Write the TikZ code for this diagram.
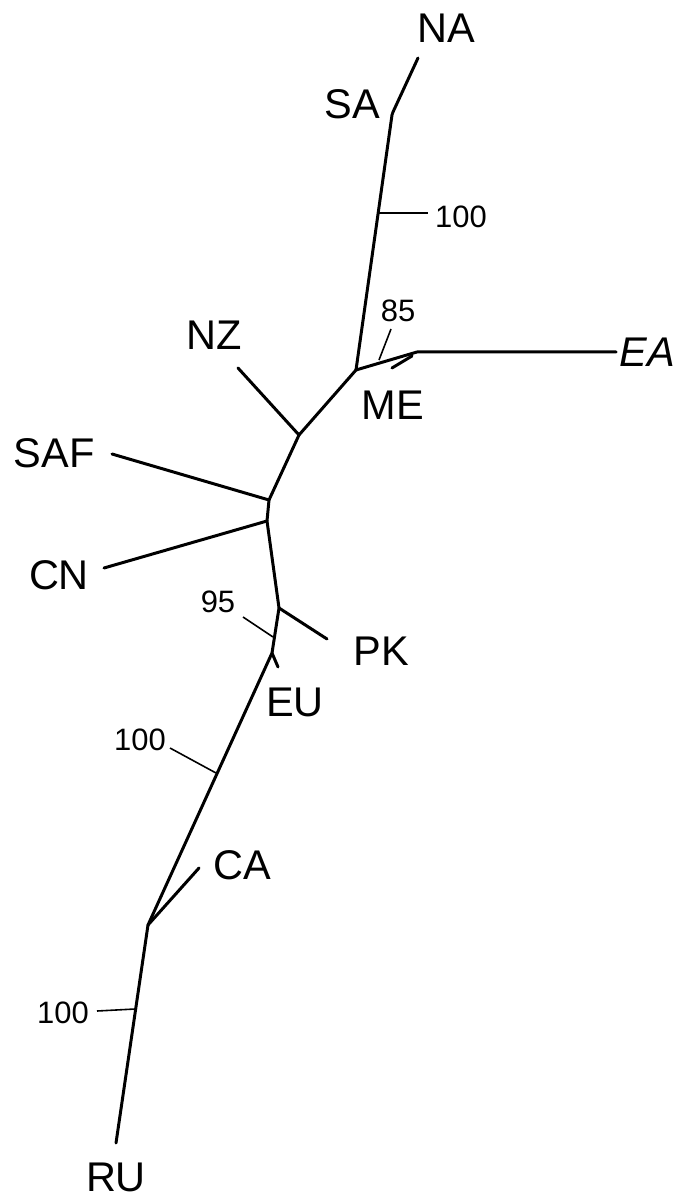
\documentclass[tikz,border=0pt]{standalone}
\usepackage{fontspec}
\setmainfont{Liberation Sans}
\begin{document}
\begin{tikzpicture}[x=0.01cm,y=-0.01cm,
  branch/.style={line width=0.85pt,line cap=round,line join=round},
  tick/.style={line width=0.45pt},
  leaf/.style={font=\fontsize{11.8}{14}\selectfont,inner sep=0pt,anchor=center},
  boot/.style={font=\fontsize{8.8}{10}\selectfont,inner sep=0pt,anchor=center}]
\useasboundingbox (0,0) rectangle (686,1195);
% coordinates
\coordinate (tNA) at (418,58);
\coordinate (jSA) at (393,112);
\coordinate (jSA2) at (392,115);
\coordinate (j1) at (356,370);
\coordinate (jEA) at (417,352);
\coordinate (tEA) at (616,352);
\coordinate (jME) at (412,356);
\coordinate (tME) at (392,368);
\coordinate (j2) at (299,435);
\coordinate (tNZ) at (238,368);
\coordinate (j3) at (269,500);
\coordinate (tSAF) at (112,454);
\coordinate (j4) at (267,521);
\coordinate (tCN) at (104,568);
\coordinate (j5) at (279,608);
\coordinate (tPK) at (327,639);
\coordinate (j6) at (272,653);
\coordinate (tEU) at (278,667);
\coordinate (j7) at (148,925);
\coordinate (tCA) at (199,868);
\coordinate (tRU) at (116,1143);
% branches
\draw[branch] (tNA) -- (jSA) -- (jSA2) -- (j1);
\draw[branch] (j1) -- (jEA) -- (tEA);
\draw[branch] (jME) -- (tME);
\draw[branch] (j1) -- (j2) -- (j3) -- (j4) -- (j5) -- (j6) -- (j7) -- (tRU);
\draw[branch] (j2) -- (tNZ);
\draw[branch] (j3) -- (tSAF);
\draw[branch] (j4) -- (tCN);
\draw[branch] (j5) -- (tPK);
\draw[branch] (j6) -- (tEU);
\draw[branch] (j7) -- (tCA);
% bootstrap ticks
\coordinate (a1) at (379,213); \coordinate (b1) at (428,213);
\coordinate (a2) at (379,360); \coordinate (b2) at (391,329);
\coordinate (a3) at (273,637); \coordinate (b3) at (243,617);
\coordinate (a4) at (216,773); \coordinate (b4) at (170,748);
\coordinate (a5) at (135,1009); \coordinate (b5) at (97,1011);
\draw[tick] (a1) -- (b1);
\draw[tick] (a2) -- (b2);
\draw[tick] (a3) -- (b3);
\draw[tick] (a4) -- (b4);
\draw[tick] (a5) -- (b5);
% labels
\node[leaf] (NA) at (446,28) {NA};
\node[leaf] (SA) at (352,104) {SA};
\node[leaf] (EA) at (647,352) {\itshape EA};
\node[leaf] (ME) at (393,405) {ME};
\node[leaf] (NZ) at (214,335) {NZ};
\node[leaf] (SAF) at (54,453) {SAF};
\node[leaf] (CN) at (59,575) {CN};
\node[leaf] (PK) at (381,651) {PK};
\node[leaf] (EU) at (295,702) {EU};
\node[leaf] (CA) at (242,865) {CA};
\node[leaf] (RU) at (116,1177) {RU};
\node[boot] (s1) at (461,217) {100};
\node[boot] (s2) at (398,311) {85};
\node[boot] (s3) at (218,602) {95};
\node[boot] (s4) at (140,740) {100};
\node[boot] (s5) at (63,1013) {100};
\end{tikzpicture}
\end{document}
